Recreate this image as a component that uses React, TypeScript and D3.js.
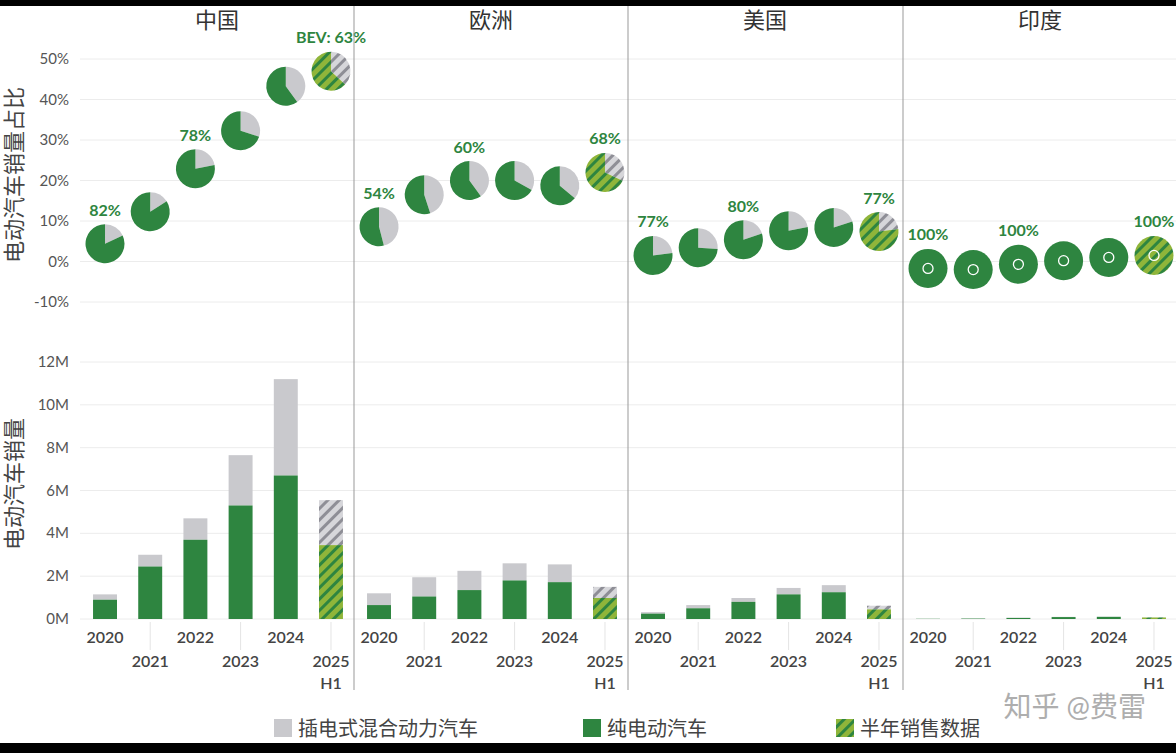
import { useRef, useEffect } from "react";
import * as d3 from "d3";

const W = 1176;
const H = 753;

const REGIONS = ["中国", "欧洲", "美国", "印度"];
const YEARS = ["2020", "2021", "2022", "2023", "2024", "2025"];
// EV share of sales (%), per region per year
const SHARE = [
  [4.4, 12.3, 22.9, 32.3, 43.3, 47],
  [8.6, 16.5, 20, 20, 18.7, 22],
  [1.5, 3.4, 5.4, 7.6, 8.4, 7.4],
  [-1.7, -2, -0.7, 0.2, 1, 1.5],
];
// BEV fraction of EV sales (%)
const BEV_PCT = [
  [82, 84, 78, 70, 60, 63],
  [54, 55, 60, 67, 64, 68],
  [77, 74, 80, 78, 80, 77],
  [100, 100, 100, 100, 100, 100],
];
const BEV_LABEL = [
  ["82%", "", "78%", "", "", "BEV: 63%"],
  ["54%", "", "60%", "", "", "68%"],
  ["77%", "", "80%", "", "", "77%"],
  ["100%", "", "100%", "", "", "100%"],
];
// sales in millions
const BEV_SALES = [
  [0.9, 2.45, 3.7, 5.3, 6.7, 3.45],
  [0.65, 1.05, 1.35, 1.8, 1.72, 0.98],
  [0.25, 0.5, 0.8, 1.15, 1.25, 0.45],
  [0.01, 0.02, 0.05, 0.09, 0.1, 0.07],
];
const TOTAL_SALES = [
  [1.15, 3.0, 4.7, 7.65, 11.2, 5.55],
  [1.2, 1.95, 2.25, 2.6, 2.55, 1.5],
  [0.32, 0.65, 0.98, 1.45, 1.58, 0.62],
  [0.01, 0.025, 0.06, 0.1, 0.11, 0.08],
];
const SHARE_TICKS = [-10, 0, 10, 20, 30, 40, 50];
const SALES_TICKS = [0, 2, 4, 6, 8, 10, 12];

const GREEN = "#2e8540";
const GRAY = "#c9c9cd";
const LIME = "#8fb53a";
const FONT = "Lato, 'Noto Sans CJK SC', sans-serif";

export default function App() {
  const ref = useRef<SVGSVGElement>(null);

  useEffect(() => {
    const svg = d3.select(ref.current);
    svg.selectAll("*").remove();

    const defs = svg.append("defs");
    const mkHatch = (id: string, bg: string, fg: string) => {
      const p = defs.append("pattern").attr("id", id).attr("patternUnits", "userSpaceOnUse")
        .attr("width", 8).attr("height", 8).attr("patternTransform", "rotate(45)");
      p.append("rect").attr("width", 8).attr("height", 8).attr("fill", bg);
      p.append("rect").attr("width", 3).attr("height", 8).attr("fill", fg);
    };
    mkHatch("hg", LIME, GREEN);
    mkHatch("hy", "#d6d6da", "#8e8e96");

    svg.append("rect").attr("width", W).attr("height", H).attr("fill", "white");

    const panelX = [80, 354, 628, 903];
    const panelW = 274;
    const yShare = d3.scaleLinear().domain([-10, 50]).range([302, 59]);
    const ySales = d3.scaleLinear().domain([0, 12]).range([619, 362]);

    // grid
    const grid = svg.append("g");
    SHARE_TICKS.forEach((t) => {
      grid.append("line").attr("x1", 80).attr("x2", W).attr("y1", yShare(t)).attr("y2", yShare(t))
        .attr("stroke", "#ececec");
      svg.append("text").attr("x", 69).attr("y", yShare(t) + 5).attr("text-anchor", "end")
        .attr("font-size", 15).attr("fill", "#555").attr("font-family", FONT).text(`${t}%`);
    });
    SALES_TICKS.forEach((t) => {
      grid.append("line").attr("x1", 80).attr("x2", W).attr("y1", ySales(t)).attr("y2", ySales(t))
        .attr("stroke", "#ececec");
      svg.append("text").attr("x", 69).attr("y", ySales(t) + 5).attr("text-anchor", "end")
        .attr("font-size", 15).attr("fill", "#555").attr("font-family", FONT).text(`${t}M`);
    });

    // y titles
    svg.append("text").attr("transform", "translate(22,175) rotate(-90)").attr("text-anchor", "middle")
      .attr("font-size", 22).attr("fill", "#444").attr("font-family", FONT).text("电动汽车销量占比");
    svg.append("text").attr("transform", "translate(22,484) rotate(-90)").attr("text-anchor", "middle")
      .attr("font-size", 22).attr("fill", "#444").attr("font-family", FONT).text("电动汽车销量");

    const pie = d3.pie<number>().sort(null).value((d) => d);
    const arc = d3.arc<d3.PieArcDatum<number>>().innerRadius(0).outerRadius(19.5);

    REGIONS.forEach((reg, ri) => {
      const x0 = panelX[ri];
      const x = d3.scaleBand().domain(YEARS).range([x0 + 4, x0 + panelW - 2]).paddingInner(0.47).paddingOuter(0.2);
      const cx = (y: string) => (x(y) ?? 0) + x.bandwidth() / 2;

      if (ri > 0)
        svg.append("line").attr("x1", x0).attr("x2", x0).attr("y1", 6).attr("y2", 690)
          .attr("stroke", "#999").attr("stroke-width", 1);

      svg.append("text").attr("x", x0 + panelW / 2).attr("y", 28).attr("text-anchor", "middle")
        .attr("font-size", 22).attr("fill", "#333").attr("font-family", FONT).text(reg);

      YEARS.forEach((yr, i) => {
        const half = i === 5;
        // pies: PHEV slice first (clockwise from top), then BEV
        const g = svg.append("g").attr("transform", `translate(${cx(yr)},${yShare(SHARE[ri][i])})`);
        const bev = BEV_PCT[ri][i];
        g.selectAll("path").data(pie([100 - bev, bev])).join("path")
          .attr("d", arc)
          .attr("fill", (_, k) => (k === 1 ? (half ? "url(#hg)" : GREEN) : half ? "url(#hy)" : GRAY));
        if (ri === 3)
          g.append("circle").attr("r", 5).attr("fill", "none").attr("stroke", "white").attr("stroke-width", 1.3);
        if (BEV_LABEL[ri][i])
          svg.append("text").attr("x", cx(yr)).attr("y", yShare(SHARE[ri][i]) - 28)
            .attr("text-anchor", "middle").attr("font-size", 16).attr("font-weight", 700)
            .attr("fill", GREEN).attr("font-family", FONT).text(BEV_LABEL[ri][i]);

        // bars
        const bx = x(yr) ?? 0;
        const tot = TOTAL_SALES[ri][i];
        const b = BEV_SALES[ri][i];
        svg.append("rect").attr("x", bx).attr("width", x.bandwidth())
          .attr("y", ySales(tot)).attr("height", ySales(b) - ySales(tot))
          .attr("fill", half ? "url(#hy)" : GRAY);
        svg.append("rect").attr("x", bx).attr("width", x.bandwidth())
          .attr("y", ySales(b)).attr("height", ySales(0) - ySales(b))
          .attr("fill", half ? "url(#hg)" : GREEN);

        // x labels
        const ly = i % 2 === 0 ? 643 : 667;
        svg.append("text").attr("x", cx(yr)).attr("y", ly).attr("text-anchor", "middle")
          .attr("font-size", 16).attr("font-weight", 600).attr("fill", "#444").attr("font-family", FONT).text(yr);
        if (half)
          svg.append("text").attr("x", cx(yr)).attr("y", 689).attr("text-anchor", "middle")
            .attr("font-size", 16).attr("font-weight", 600).attr("fill", "#444").attr("font-family", FONT).text("H1");
        if (i % 2 === 1)
          svg.append("line").attr("x1", cx(yr)).attr("x2", cx(yr)).attr("y1", 622).attr("y2", 650)
            .attr("stroke", "#e4e4e4");
      });
    });

    // legend
    const leg = [
      { x: 274, fill: GRAY, t: "插电式混合动力汽车" },
      { x: 583, fill: GREEN, t: "纯电动汽车" },
      { x: 836, fill: "url(#hg)", t: "半年销售数据" },
    ];
    leg.forEach((l) => {
      svg.append("rect").attr("x", l.x).attr("y", 719).attr("width", 18).attr("height", 18).attr("fill", l.fill);
      svg.append("text").attr("x", l.x + 24).attr("y", 736).attr("font-size", 20).attr("fill", "#444")
        .attr("font-family", FONT).text(l.t);
    });

    svg.append("text").attr("x", 1146).attr("y", 717).attr("text-anchor", "end").attr("font-size", 28)
      .attr("fill", "#9a9a9a").attr("opacity", 0.8).attr("font-family", FONT).text("知乎 @费雷");

    // black frame strips
    svg.append("rect").attr("width", W).attr("height", 6).attr("fill", "black");
    svg.append("rect").attr("y", 743).attr("width", W).attr("height", 10).attr("fill", "black");
  }, []);

  return (
    <svg ref={ref} width={W} height={H} viewBox={`0 0 ${W} ${H}`}
      style={{ position: "absolute", left: 0, top: 0, display: "block" }} />
  );
}
